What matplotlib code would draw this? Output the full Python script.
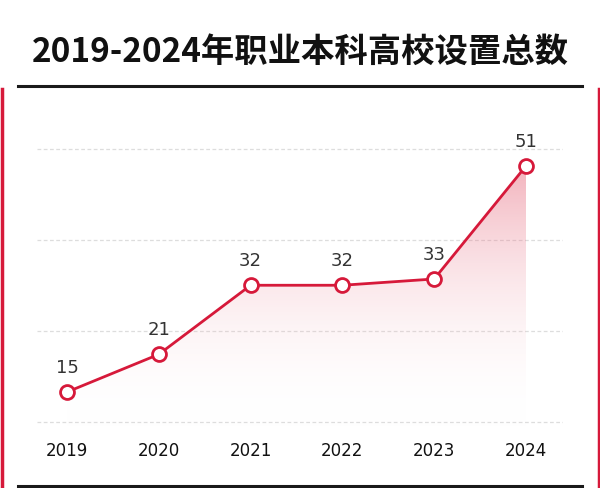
import numpy as np
import matplotlib.pyplot as plt
from matplotlib.patches import Polygon
from matplotlib.lines import Line2D
from matplotlib.colors import LinearSegmentedColormap

years = [2019, 2020, 2021, 2022, 2023, 2024]
counts = [15, 21, 32, 32, 33, 51]
title = '2019-2024年职业本科高校设置总数'

red = '#d6193a'
fig = plt.figure(figsize=(6, 4.89), dpi=100)
fig.patch.set_facecolor('white')

fig.text(0.5, 1 - 52 / 489, title, ha='center', va='center', fontsize=24,
         fontweight='bold', color='#111111',
         family=['Noto Sans CJK SC', 'Noto Sans CJK JP', 'Noto Sans CJK TC', 'DejaVu Sans'])
fig.add_artist(Line2D([18 / 600, 582 / 600], [1 - 87 / 489] * 2, color='#1a1a1a', lw=2.2))
fig.add_artist(Line2D([18 / 600, 582 / 600], [1 - 487 / 489] * 2, color='#1a1a1a', lw=2.2))
fig.add_artist(Line2D([1.5 / 600] * 2, [0, 1 - 90 / 489], color=red, lw=2.5))
fig.add_artist(Line2D([598.5 / 600] * 2, [0, 1 - 90 / 489], color=red, lw=2.5))

ax = fig.add_axes([37 / 600, 59 / 489, 526 / 600, 290 / 489])
ax.set_xlim(2018.673, 2024.403)
ax.set_ylim(9.11, 55.29)
for s in ax.spines.values():
    s.set_visible(False)
ax.set_yticks([])
ax.set_xticks([])
for g in [10.2, 24.7, 39.2, 53.7]:
    ax.axhline(g, color='#dddddd', lw=0.9, ls=(0, (3, 2)), zorder=0)

# gradient fill under line
grad = np.linspace(0, 1, 256).reshape(-1, 1)
cmap = LinearSegmentedColormap.from_list('g', [(1, 1, 1, 0), (0.88, 0.25, 0.35, 0.4)])
img = ax.imshow(grad, extent=[2019, 2024, 9.11, 51], origin='lower', aspect='auto',
                cmap=cmap, zorder=1)
poly = Polygon(list(zip(years, counts)) + [(2024, 9.11), (2019, 9.11)],
               closed=True, transform=ax.transData, facecolor='none', edgecolor='none')
ax.add_patch(poly)
img.set_clip_path(poly)

ax.plot(years, counts, color=red, lw=2, marker='o', ms=10, mfc='white',
        mec=red, mew=2, zorder=3)
for x, y in zip(years, counts):
    ax.text(x, y + 2.6, str(y), ha='center', va='bottom', fontsize=13, color='#333333')
for x in years:
    ax.text(x, 9.11 - 3.3, str(x), ha='center', va='center', fontsize=12, color='#111111')

fig.savefig('out.png', dpi=100)
